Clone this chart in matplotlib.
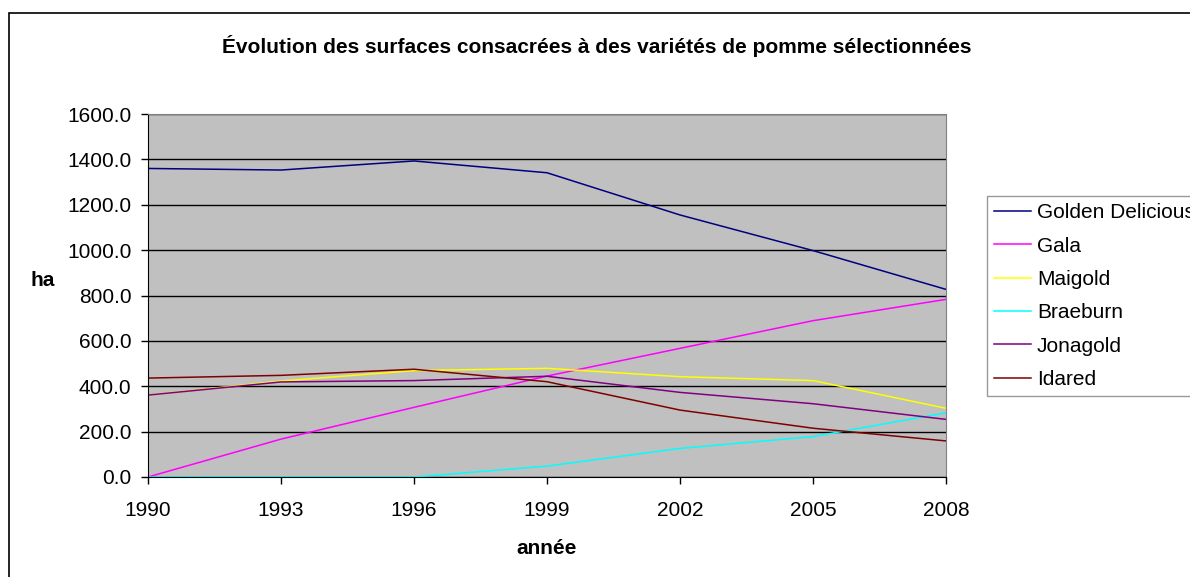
import matplotlib.pyplot as plt
from matplotlib.patches import Rectangle

plt.rcParams["font.family"] = ["Liberation Sans", "DejaVu Sans"]

years = [1990, 1993, 1996, 1999, 2002, 2005, 2008]
varieties = ["Golden Delicious", "Gala", "Maigold", "Braeburn", "Jonagold", "Idared"]
golden = [1360, 1353, 1393, 1341, 1155, 998, 827]
gala = [0, 167, 307, 445, 567, 689, 783]
maigold = [361, 423, 469, 479, 442, 425, 303]
braeburn = [0, 0, 0, 48, 126, 178, 283]
jonagold = [361, 419, 425, 444, 373, 323, 254]
idared = [436, 448, 475, 420, 295, 215, 159]
colors = ["#000080", "#FF00FF", "#FFFF00", "#00FFFF", "#800080", "#800000"]

W, H = 1190, 577
fig = plt.figure(figsize=(W / 100, H / 100), dpi=100)
ax = fig.add_axes([148 / W, 1 - 477 / H, (946 - 148) / W, (477 - 114) / H])

# outer chart frame (only top/left visible in the original)
fig.patches.append(Rectangle((9 / W, -0.2), 1.5, 1 - 13 / H + 0.2, transform=fig.transFigure,
                             fill=False, ec="black", lw=1.2))

x = list(range(len(years)))
for name, vals, c in zip(varieties, [golden, gala, maigold, braeburn, jonagold, idared], colors):
    ax.plot(x, vals, color=c, lw=1.1, label=name)

ax.set_facecolor("#C0C0C0")
ax.set_xlim(0, len(years) - 1)
ax.set_ylim(0, 1600)
ax.set_yticks(range(0, 1601, 200))
ax.set_yticklabels([f"{v:.1f}" for v in range(0, 1601, 200)])
ax.set_xticks(x)
ax.set_xticklabels([str(y) for y in years])
ax.grid(axis="y", color="black", lw=1)
ax.set_axisbelow(True)
ax.tick_params(labelsize=15, length=5, width=1, direction="out", color="black")
ax.tick_params(axis="x", pad=12)
ax.tick_params(axis="y", pad=7)
for s in ["top", "right"]:
    ax.spines[s].set_color("#808080")
for s in ["left", "bottom"]:
    ax.spines[s].set_color("black")

fig.text(547 / W, 1 - 548 / H, "année", fontsize=15, fontweight="bold", ha="center", va="center")
fig.text(43 / W, 1 - 281 / H, "ha", fontsize=15, fontweight="bold", ha="center", va="center")
fig.text(597 / W, 1 - 46 / H, "Évolution des surfaces consacrées à des variétés de pomme sélectionnées",
         fontsize=15, fontweight="bold", ha="center", va="center")

# legend runs off the right edge, as in the original
leg = ax.legend(loc="upper left", bbox_to_anchor=(987 / W, 1 - 196 / H), bbox_transform=fig.transFigure,
                fontsize=15, frameon=True, fancybox=False, edgecolor="#808080", handlelength=1.75,
                handletextpad=0.3, labelspacing=0.69, borderaxespad=0, borderpad=0.35)
leg.get_frame().set_linewidth(1)

fig.savefig("out.png", dpi=100)
